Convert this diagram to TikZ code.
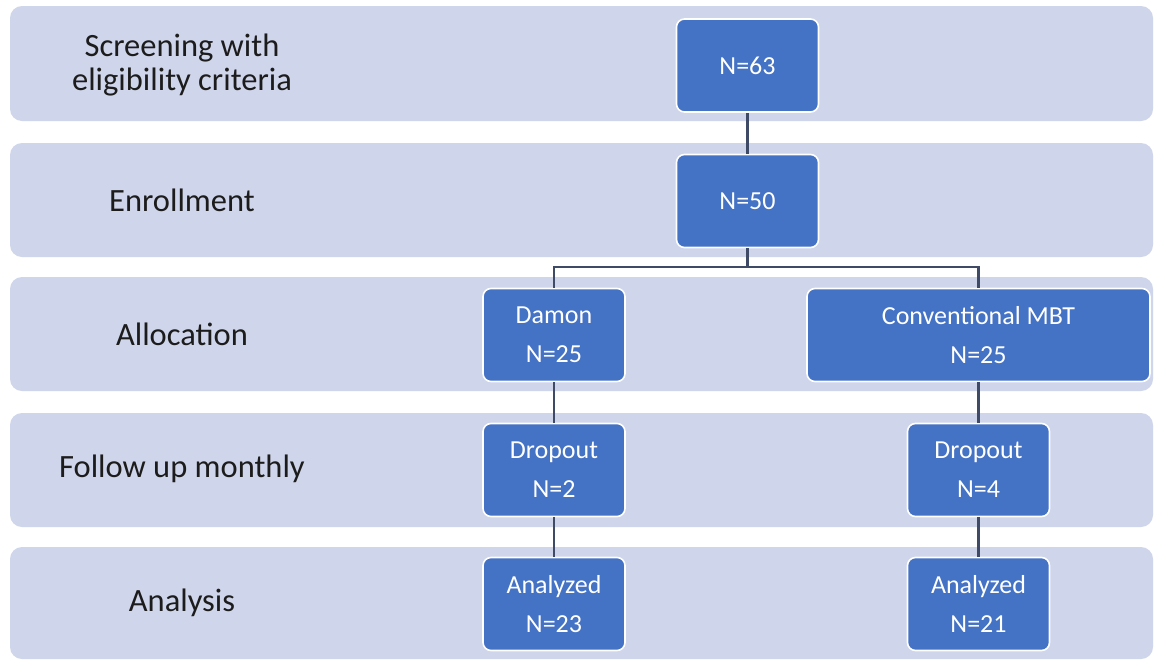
\documentclass[tikz,border=0pt]{standalone}
\usepackage{fontspec}
\setmainfont{Carlito}
\definecolor{bandc}{HTML}{CFD5EA}
\definecolor{boxc}{HTML}{4472C4}
\definecolor{linec}{HTML}{3E4A66}
\definecolor{labc}{HTML}{1C1C1C}
\tikzset{
  band/.style={fill=bandc, rounded corners=12pt},
  stage/.style={font=\fontsize{32.5}{36}\selectfont, text=labc, align=center},
  boxn/.style={draw=white, line width=1.6pt, fill=boxc, rounded corners=8pt,
    minimum width=142pt, minimum height=93pt, text=white, align=center,
    font=\fontsize{26}{39}\selectfont, inner sep=0pt},
  conn/.style={draw=linec, line width=2.4pt}
}
\begin{document}
\begin{tikzpicture}[x=1pt,y=-1pt]
\useasboundingbox (0,0) rectangle (1156,659);
\fill[white] (0,0) rectangle (1156,659);
% bands
\fill[band] (10,6) rectangle (1153,121);
\fill[band] (10,143) rectangle (1153,257);
\fill[band] (10,277) rectangle (1153,391);
\fill[band] (10,413) rectangle (1153,527);
\fill[band] (10,547) rectangle (1153,659);
% stage labels
\node[stage] (s1) at (182,65) {Screening with\\[-2pt]eligibility criteria};
\node[stage] (s2) at (182,200) {Enrollment};
\node[stage] (s3) at (182,334) {Allocation};
\node[stage] (s4) at (182,469) {Follow up monthly};
\node[stage] (s5) at (182,603) {Analysis};
\coordinate (split) at (747.5,267);
% boxes
\node[boxn] (n63) at (747.5,65.5) {N=63};
\node[boxn] (n50) at (747.5,201) {N=50};
\node[boxn] (damon) at (554,335) {Damon\\N=25};
\node[boxn, minimum width=343pt] (conv) at (978.5,335) {Conventional MBT\\N=25};
\node[boxn] (dl) at (554,470) {Dropout\\N=2};
\node[boxn] (dr) at (978.5,470) {Dropout\\N=4};
\node[boxn] (al) at (554,604) {Analyzed\\N=23};
\node[boxn] (ar) at (978.5,604) {Analyzed\\N=21};
% connectors
\draw[conn] (n63.south) -- (n50.north);
\draw[conn] (n50.south) -- (split);
\draw[conn] (split) -| (damon.north);
\draw[conn] (split) -| (conv.north);
\draw[conn] (damon.south) -- (dl.north);
\draw[conn] (conv.south) -- (dr.north);
\draw[conn] (dl.south) -- (al.north);
\draw[conn] (dr.south) -- (ar.north);
\end{tikzpicture}
\end{document}
